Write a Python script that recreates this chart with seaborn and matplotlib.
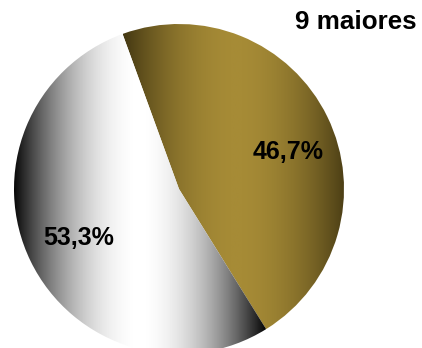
import numpy as np
import matplotlib
matplotlib.use("Agg")
import matplotlib.pyplot as plt
import seaborn as sns

# Share of the nine largest vs. the rest
categories = ["9 maiores", "demais"]
shares = [46.7, 53.3]
share_labels = ["46,7%", "53,3%"]
title_text = "9 maiores"

sns.set_theme(style="white")
plt.rcParams["font.family"] = ["Liberation Sans", "DejaVu Sans"]

W, H = 422, 348
fig = plt.figure(figsize=(W / 100, H / 100), dpi=100)
ax = fig.add_axes([0, 0, 1, 1])

center = (179, 159)
radius = 165

wedges, _ = ax.pie(shares, startangle=110, counterclock=False,
                   center=center, radius=radius, frame=True,
                   wedgeprops=dict(linewidth=0))
ax.set_xlim(0, W)
ax.set_ylim(0, H)
ax.set_aspect("equal")
ax.axis("off")

# Horizontal "cylinder" shading per slice: dark at both sides, bright in the middle
shades = [("#a68b36", "#433712"), ("#ffffff", "#050505")]
for wedge, (bright, dark) in zip(wedges, shades):
    cmap = sns.blend_palette([dark, bright], as_cmap=True)
    verts = wedge.get_patch_transform().transform(wedge.get_path().vertices)
    x0, x1 = verts[:, 0].min(), verts[:, 0].max()
    y0, y1 = verts[:, 1].min(), verts[:, 1].max()
    xs = np.linspace(-1, 1, 400)
    level = 1 - np.abs(xs) ** 1.9
    img = ax.imshow(level[np.newaxis, :], cmap=cmap, vmin=0, vmax=1,
                    extent=[x0, x1, y0, y1], aspect="auto",
                    interpolation="bilinear", zorder=2)
    img.set_clip_path(wedge)
    wedge.set_facecolor("none")

# Percentage labels
label_pos = [(18.7, 115), (206.0, 112)]
for text, (ang, dist) in zip(share_labels, label_pos):
    a = np.deg2rad(ang)
    ax.text(center[0] + dist * np.cos(a), center[1] + dist * np.sin(a), text,
            ha="center", va="center", fontsize=18, fontweight="bold",
            color="black", zorder=3)

ax.text(355.5, 326, title_text, ha="center", va="center", fontsize=18.7,
        fontweight="bold", color="black", zorder=3)

fig.savefig("out.png", dpi=100)
